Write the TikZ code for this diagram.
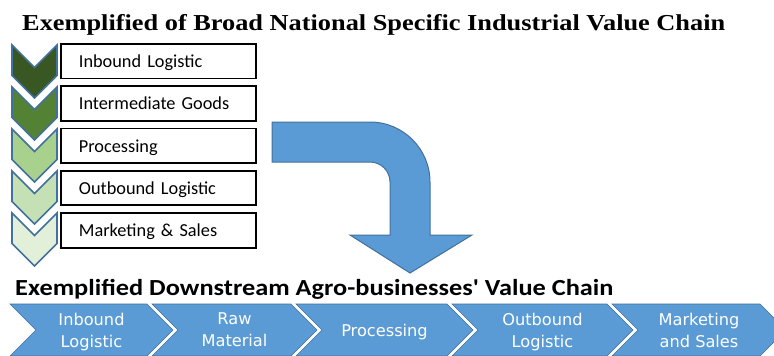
\documentclass[tikz,border=0pt]{standalone}
\usepackage{fontspec}
\setmainfont{Liberation Serif}
\newfontfamily\titlefont{Liberation Serif}[FakeStretch=1.155]
\newfontfamily\calibri{Carlito}
\newfontfamily\calibriwide{Carlito}[FakeStretch=1.145]
\newfontfamily\verdana{DejaVu Sans}
\usepackage{tikz}
\usetikzlibrary{shapes.symbols, positioning}
\usepackage{xcolor}
\definecolor{vcDarkGreen}{RGB}{56, 87, 35}
\definecolor{vcGreen}{RGB}{84, 130, 53}
\definecolor{vcLightGreen}{RGB}{169, 209, 142}
\definecolor{vcPaleGreen}{RGB}{197, 224, 180}
\definecolor{vcMistGreen}{RGB}{226, 240, 217}
\definecolor{vcBlue}{RGB}{91, 155, 213}
\definecolor{vcBorder}{RGB}{65, 113, 156}

\begin{document}
\begin{tikzpicture}[
    x=1pt, y=-1pt,
    node distance=6pt,
    stagebox/.style={
        rectangle,
        minimum width=195pt,
        minimum height=34.5pt,
        text width=159pt,
        text height=15pt,
        text depth=2pt,
        inner xsep=18pt,
        align=left,
        font=\calibri\fontsize{18.3}{21}\selectfont,
        draw=black,
        fill=white,
        line width=1.8pt
    },
    downchev/.style={
        signal,
        signal to=south,
        signal from=north,
        minimum width=45pt,
        minimum height=8pt,
        inner sep=0pt,
        draw=vcBorder,
        line width=1.6pt,
        preaction={draw=white, line width=5pt}
    },
    flowchev/.style={
        signal,
        signal to=east,
        signal from=west,
        minimum height=52pt,
        inner sep=0pt,
        text depth=-1.5pt,
        align=center,
        text=white,
        fill=vcBlue,
        draw=vcBorder,
        line width=0.6pt,
        preaction={draw=white, line width=2pt},
        font=\verdana\fontsize{16.2}{22}\selectfont
    },
    bigarrow/.style={
        fill=vcBlue,
        draw=vcBorder,
        line width=1pt
    }
]
\useasboundingbox (0,0) rectangle (774,356);

% Titles
\node[font=\titlefont\bfseries\fontsize{22.8}{26}\selectfont, anchor=base west, inner sep=0pt] (title) at (22,30) {Exemplified of Broad National Specific Industrial Value Chain};
\node[font=\calibriwide\bfseries\fontsize{23}{26}\selectfont, anchor=base west, inner sep=0pt] (subtitle) at (15,295) {Exemplified Downstream Agro-businesses' Value Chain};

% Left column - chevrons
\node[downchev, fill=vcDarkGreen] (v1) at (34.5,71.5) {};
\node[downchev, fill=vcGreen] (v2) at (34.5,113.5) {};
\node[downchev, fill=vcLightGreen] (v3) at (34.5,155.5) {};
\node[downchev, fill=vcPaleGreen] (v4) at (34.5,197.5) {};
\node[downchev, fill=vcMistGreen] (v5) at (34.5,239.5) {};

% Left column - stages
\node[stagebox, anchor=north west] (inb) at (60,43) {Inbound Logistic};
\node[stagebox, below=of inb] (inter) {Intermediate Goods};
\node[stagebox, below=of inter] (proc) {Processing};
\node[stagebox, below=of proc] (outb) {Outbound Logistic};
\node[stagebox, below=of outb] (mkt) {Marketing \& Sales};

% Bent arrow
\draw[bigarrow] (272,122) -- (370,122) .. controls (403.1,122) and (430,148.9) .. (430,182)
    -- (430,235) -- (472,235) -- (410,273) -- (350,235) -- (390,235) -- (390,182)
    .. controls (390,170.95) and (381.05,162) .. (370,162) -- (272,162) -- cycle;

% Bottom - downstream chain
\node[flowchev, minimum width=163pt] (bin) at (91.5,330) {Inbound\\Logistic};
\node[flowchev, minimum width=165pt] (braw) at (234.5,330) {Raw\\Material};
\node[flowchev, minimum width=177pt] (bproc) at (384.5,330) {Processing};
\node[flowchev, minimum width=181pt] (bout) at (542.5,330) {Outbound\\Logistic};
\node[flowchev, minimum width=174pt] (bmkt) at (699,330) {Marketing\\and Sales};

\end{tikzpicture}
\end{document}
